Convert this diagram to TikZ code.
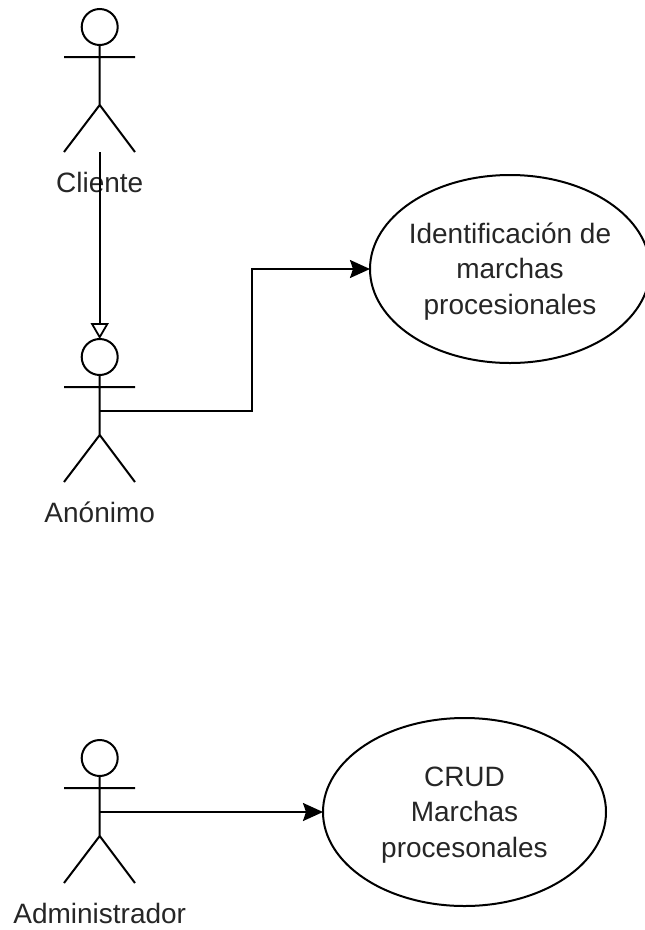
\documentclass[tikz,border=0pt]{standalone}
\usepackage{fontspec}
\usepackage{xcolor}
\setmainfont{Liberation Sans}
\usetikzlibrary{arrows.meta,shapes.geometric}
\newcommand{\firstline}{\rule{0pt}{25.5pt}}

\begin{document}
\begin{tikzpicture}[x=1pt,y=1pt,line width=2pt,
                    >={Stealth[length=20pt,width=18pt,inset=3pt]}]
\tikzstyle{every node}=[font=\fontsize{28}{35.5}\selectfont,text=black!85]
\tikzstyle{head}=[circle,draw,minimum size=36pt,inner sep=0pt,outer sep=0pt]
\tikzstyle{usecase}=[ellipse,draw,align=center,inner xsep=-5pt,inner ysep=0pt,outer sep=0pt,
                     minimum width=280pt,minimum height=188pt]
\useasboundingbox (0,0) rectangle (645,-930);

% actors
\foreach \name/\ypos/\caption in {CLIENTE/-27/Cliente,ANONIMO/-357/Anónimo,ADMIN/-758/Administrador} {
  \node[head] (\name) at (99.7,\ypos) {};
  \coordinate (\name ARML) at (64,\ypos-30);
  \coordinate (\name ARMR) at (135,\ypos-30);
  \coordinate (\name HIP) at (99.7,\ypos-78);
  \coordinate (\name WAIST) at (99.7,\ypos-54);
  \coordinate (\name LEGL) at (64,\ypos-125);
  \coordinate (\name LEGR) at (135,\ypos-125);
  \coordinate (\name FOOT) at (99.7,\ypos-125);
  \node[anchor=base] (\name TXT) at (99.7,\ypos-165) {\caption};
  \draw (\name.south) -- (\name HIP) -- (\name LEGL)
        (\name HIP) -- (\name LEGR)
        (\name ARML) -- (\name ARMR);
}

\node[usecase] (IDENT) at (510,-269) {\firstline Identificación de\\marchas\\procesionales};
\node[usecase,minimum width=283pt] (CRUD) at (464.5,-812) {\firstline CRUD\\Marchas\\procesonales};
\coordinate (BEND) at (252,-269);

\draw[-{Triangle[open,length=16pt,width=18pt,line width=1.8pt]}] (CLIENTEFOOT) -- (ANONIMO.north);
\draw[->] (ANONIMOWAIST) -| (BEND) -- (IDENT.west);
\draw[->] (ADMINWAIST) -- (CRUD.west);
\end{tikzpicture}
\end{document}
